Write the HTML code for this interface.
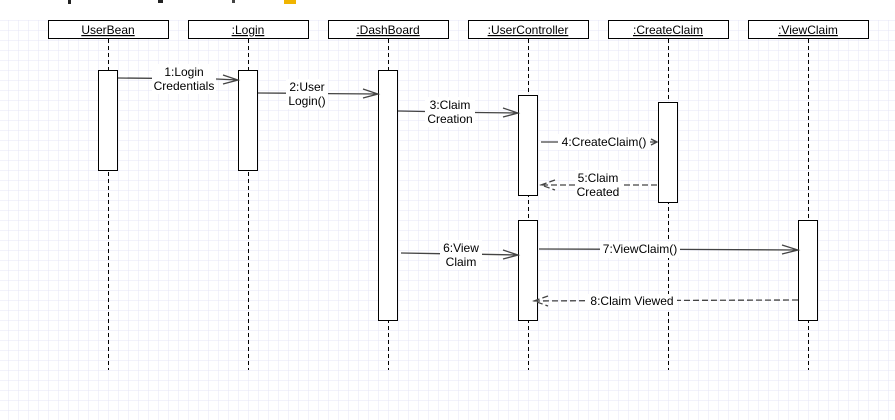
<!DOCTYPE html>
<html><head><meta charset="utf-8"><style>
html,body{margin:0;padding:0;background:#fff;}
svg{display:block;}
text{font-family:"Liberation Sans",Arial,sans-serif;font-size:12px;fill:#000;}
</style></head><body>
<svg width="895" height="420" viewBox="0 0 895 420" xmlns="http://www.w3.org/2000/svg">
<defs>
<pattern id="g" x="8" y="20" width="10" height="10" patternUnits="userSpaceOnUse">
<path d="M0 0H10M0 0V10" stroke="#e6e6f7" stroke-width="1" fill="none"/>
</pattern>
</defs>
<rect x="0" y="20" width="895" height="400" fill="url(#g)"/>
<rect x="68" y="0" width="3" height="4" fill="#222"/>
<rect x="158" y="0" width="5" height="3" fill="#222"/>
<rect x="232" y="0" width="3" height="3" fill="#444"/>
<rect x="284" y="0" width="12" height="4" fill="#f0b400"/>
<g stroke="#000" stroke-width="1" fill="#fff">
<rect x="48.5" y="20.5" width="120" height="18"/>
<rect x="188.5" y="20.5" width="120" height="18"/>
<rect x="328.5" y="20.5" width="120" height="18"/>
<rect x="468.5" y="20.5" width="120" height="18"/>
<rect x="608.5" y="20.5" width="120" height="18"/>
<rect x="748.5" y="20.5" width="120" height="18"/>
</g>
<g stroke="#000" stroke-dasharray="4,3" fill="none">
<path d="M108.5 39V370M248.5 39V370M388.5 39V370M528.5 39V370M668.5 39V370M808.5 39V370"/>
</g>
<g stroke="#000" fill="#fff">
<rect x="98.5" y="70.5" width="19" height="100"/>
<rect x="238.5" y="70.5" width="19" height="100"/>
<rect x="378.5" y="70.5" width="19" height="250"/>
<rect x="518.5" y="95.5" width="19" height="100"/>
<rect x="518.5" y="220.5" width="19" height="100"/>
<rect x="658.5" y="102.5" width="19" height="100"/>
<rect x="798.5" y="220.5" width="19" height="100"/>
</g>
<g text-anchor="middle" text-decoration="underline">
<text x="108" y="34">UserBean</text>
<text x="248" y="34">:Login</text>
<text x="388" y="34">:DashBoard</text>
<text x="528" y="34">:UserController</text>
<text x="668" y="34">:CreateClaim</text>
<text x="808" y="34">:ViewClaim</text>
</g>
<g fill="#fff">
<rect x="152" y="64" width="64" height="30"/>
<rect x="286" y="79" width="42" height="30"/>
<rect x="425" y="97" width="50" height="30"/>
<rect x="558" y="134" width="92" height="16"/>
<rect x="575" y="170" width="46" height="30"/>
<rect x="440" y="240" width="42" height="30"/>
<rect x="600" y="242" width="80" height="16"/>
<rect x="585" y="294" width="92" height="16"/>
</g>
<g stroke="#444" stroke-width="1.3" fill="none">
<path d="M118 78L152 78.3M216 79L238 80M223 75L238 80L223 84"/>
<path d="M258 93L286 93.2M328 93.6L378 94M363 89L378 94L363 98"/>
<path d="M398 111L425 111.5M475 112.5L518 113M503 108L518 113L503 117"/>
<path d="M541 142L558 142M650 142L657 142M651 139L657 142L651 145"/>
<path d="M657 185L621 185M575 185L541 185M555 180L541 185L555 190" stroke-dasharray="6,3"/>
<path d="M401 253L440 253.7M482 254.3L518 255M503 250L518 255L503 259"/>
<path d="M539 249L600 249.2M680 249.4L798 250M782 245L798 250L782 254"/>
<path d="M798 300L677 300.4M585 300.7L534 301M548 296L534 301L548 306" stroke-dasharray="6,3"/>
</g>
<g text-anchor="middle">
<text x="184" y="76">1:Login</text><text x="184" y="90">Credentials</text>
<text x="307" y="91">2:User</text><text x="307" y="105">Login()</text>
<text x="450" y="109">3:Claim</text><text x="450" y="123">Creation</text>
<text x="604" y="146">4:CreateClaim()</text>
<text x="598" y="182">5:Claim</text><text x="598" y="196">Created</text>
<text x="461" y="252">6:View</text><text x="461" y="266">Claim</text>
<text x="640" y="253">7:ViewClaim()</text>
<text x="632" y="305">8:Claim Viewed</text>
</g>
</svg>
</body></html>
